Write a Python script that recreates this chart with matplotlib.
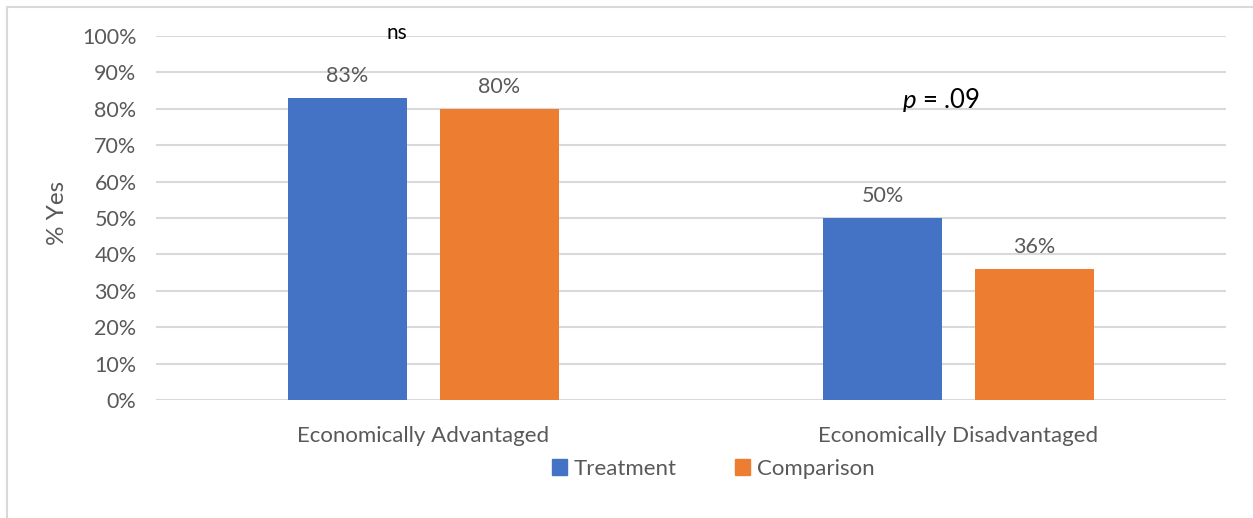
import matplotlib
matplotlib.use("Agg")
import matplotlib.pyplot as plt
from matplotlib.patches import Rectangle, Patch
from matplotlib.ticker import PercentFormatter
import numpy as np

categories = ["Economically Advantaged", "Economically Disadvantaged"]
treatment = [83, 50]
comparison = [80, 36]
series_names = ["Treatment", "Comparison"]
significance = ["ns", "$\\it{p}$ = .09"]
y_ticks = list(range(0, 101, 10))

blue = "#4472C4"
orange = "#ED7D31"
text_gray = "#595959"
grid_gray = "#D9D9D9"

plt.rcParams["font.family"] = ["Lato", "DejaVu Sans"]
plt.rcParams["mathtext.fontset"] = "custom"
plt.rcParams["mathtext.it"] = "Lato:italic"
plt.rcParams["mathtext.rm"] = "Lato"

W, H = 1253, 518
fig = plt.figure(figsize=(W / 100, H / 100), dpi=100)
ax = fig.add_axes([156 / W, 1 - 400 / H, (1226 - 156) / W, (400 - 36) / H])

x = np.arange(len(categories))
width = 0.224
offset = 0.142
b1 = ax.bar(x - offset, treatment, width, color=blue, label=series_names[0], zorder=3)
b2 = ax.bar(x + offset, comparison, width, color=orange, label=series_names[1], zorder=3)

for bars, vals in ((b1, treatment), (b2, comparison)):
    for rect, v in zip(bars, vals):
        ax.text(rect.get_x() + rect.get_width() / 2, v + 3.3, f"{v}%",
                ha="center", va="bottom", fontsize=15.5, color=text_gray)

ax.set_xlim(-0.5, len(categories) - 0.5)
ax.set_ylim(0, 100)
ax.set_yticks(y_ticks)
ax.yaxis.set_major_formatter(PercentFormatter(decimals=0))
ax.set_xticks(x)
ax.set_xticklabels(categories, fontsize=16)
ax.tick_params(axis="y", length=0, labelsize=15.5, labelcolor=text_gray, pad=14)
ax.tick_params(axis="x", length=0, labelcolor=text_gray, pad=19)
ax.grid(axis="y", color=grid_gray, linewidth=1.5, zorder=0)
for s in ax.spines.values():
    s.set_visible(False)
ax.set_ylabel("% Yes", fontsize=17.5, color=text_gray)
ax.yaxis.set_label_coords(-(156 - 68) / (1226 - 156), 0.515)

# significance annotations
ax.text(x[0] - 0.05, 98.0, significance[0], ha="center", va="bottom",
        fontsize=15, color="black")
ax.text(x[1] - 0.033, 82.3, significance[1], ha="center", va="center",
        fontsize=18.5, color="black")

handles = [Patch(color=blue), Patch(color=orange)]
fig.legend(handles, series_names, loc="center", bbox_to_anchor=(713 / W, 1 - 469 / H),
           ncol=2, frameon=False, fontsize=16, labelcolor=text_gray,
           handlelength=0.7, handleheight=0.7, handletextpad=0.3, columnspacing=2.6)

# chart-area border
fig.patches.append(Rectangle((7 / W, -0.1), 1.2, (1 - 7 / H) + 0.1,
                             transform=fig.transFigure, fill=False,
                             edgecolor=grid_gray, linewidth=1.5))

fig.savefig("out.png", dpi=100)
